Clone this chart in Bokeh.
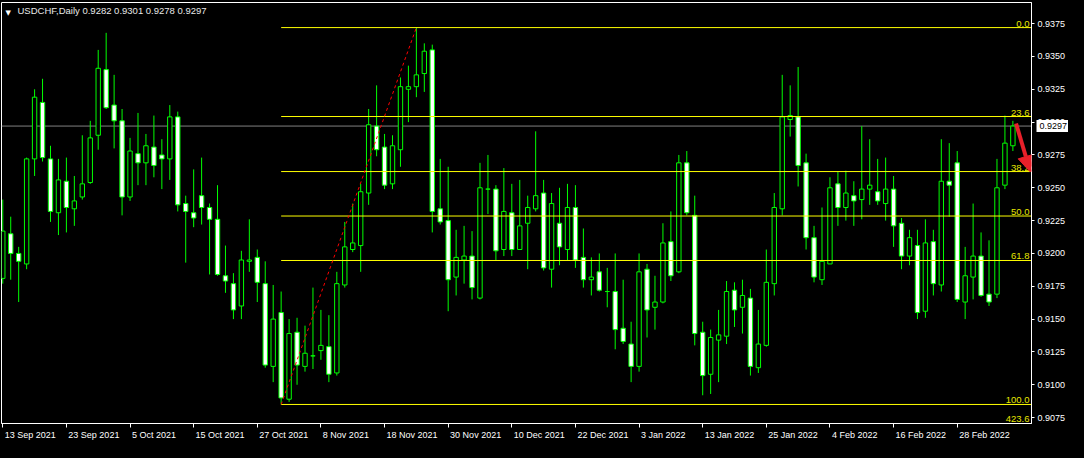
from bokeh.plotting import figure
from bokeh.models import (Range1d, FixedTicker, LinearAxis, Span, Arrow,
                          NormalHead, ColumnDataSource, NumeralTickFormatter)
from bokeh.core.properties import value
from bokeh.embed import file_html
from bokeh.resources import INLINE

symbol = "USDCHF,Daily"

opens = [0.9181, 0.9215, 0.9200, 0.9192, 0.9272, 0.9315, 0.9272, 0.9231, 0.9255, 0.9234,
         0.9243, 0.9254, 0.9290, 0.9340, 0.9313, 0.9301, 0.9243, 0.9276, 0.9269, 0.9281,
         0.9275, 0.9272, 0.9304, 0.9238, 0.9231, 0.9244, 0.9235, 0.9226, 0.9183, 0.9177,
         0.9160, 0.9194, 0.9197, 0.9177, 0.9114, 0.9155, 0.9089, 0.9140, 0.9114, 0.9122,
         0.9126, 0.9129, 0.9109, 0.9176, 0.9203, 0.9206, 0.9246, 0.9297, 0.9281, 0.9253,
         0.9279, 0.9325, 0.9327, 0.9337, 0.9355, 0.9234, 0.9225, 0.9182, 0.9195, 0.9198,
         0.9166, 0.9249, 0.9249, 0.9203, 0.9231, 0.9203, 0.9223, 0.9234, 0.9246, 0.9188,
         0.9223, 0.9203, 0.9235, 0.9197, 0.9180, 0.9186, 0.9171, 0.9171, 0.9143, 0.9131,
         0.9114, 0.9188, 0.9159, 0.9163, 0.9209, 0.9186, 0.9269, 0.9229, 0.9140, 0.9108,
         0.9134, 0.9137, 0.9172, 0.9159, 0.9166, 0.9113, 0.9130, 0.9177, 0.9234, 0.9302,
         0.9304, 0.9269, 0.9212, 0.9180, 0.9192, 0.9253, 0.9235, 0.9244, 0.9241, 0.9249,
         0.9247, 0.9238, 0.9249, 0.9223, 0.9198, 0.9206, 0.9156, 0.9209, 0.9176, 0.9255,
         0.9269, 0.9163, 0.9182, 0.9198, 0.9169, 0.9169, 0.9252, 0.9282]
highs = [0.9241, 0.9228, 0.9205, 0.9273, 0.9325, 0.9333, 0.9282, 0.9272, 0.9273, 0.9259,
         0.9290, 0.9301, 0.9355, 0.9368, 0.9336, 0.9310, 0.9288, 0.9307, 0.9291, 0.9305,
         0.9287, 0.9313, 0.9308, 0.9244, 0.9264, 0.9273, 0.9238, 0.9252, 0.9206, 0.9185,
         0.9202, 0.9226, 0.9203, 0.9194, 0.9176, 0.9171, 0.9150, 0.9151, 0.9145, 0.9174,
         0.9157, 0.9153, 0.9186, 0.9224, 0.9238, 0.9253, 0.9310, 0.9328, 0.9291, 0.9290,
         0.9334, 0.9343, 0.9372, 0.9360, 0.9359, 0.9272, 0.9266, 0.9218, 0.9221, 0.9217,
         0.9269, 0.9275, 0.9252, 0.9265, 0.9253, 0.9256, 0.9244, 0.9293, 0.9256, 0.9246,
         0.9250, 0.9253, 0.9252, 0.9219, 0.9197, 0.9200, 0.9189, 0.9200, 0.9180, 0.9148,
         0.9200, 0.9192, 0.9183, 0.9223, 0.9232, 0.9275, 0.9278, 0.9244, 0.9148, 0.9142,
         0.9157, 0.9179, 0.9178, 0.9180, 0.9173, 0.9157, 0.9203, 0.9246, 0.9336, 0.9328,
         0.9342, 0.9276, 0.9221, 0.9235, 0.9258, 0.9262, 0.9263, 0.9255, 0.9297, 0.9287,
         0.9272, 0.9273, 0.9259, 0.9227, 0.9218, 0.9218, 0.9226, 0.9218, 0.9287, 0.9284,
         0.9278, 0.9205, 0.9238, 0.9216, 0.9210, 0.9272, 0.9305, 0.9301]
lows = [0.9177, 0.9180, 0.9163, 0.9188, 0.9259, 0.9270, 0.9224, 0.9214, 0.9216, 0.9221,
        0.9241, 0.9253, 0.9279, 0.9310, 0.9280, 0.9229, 0.9240, 0.9252, 0.9252, 0.9258,
        0.9249, 0.9256, 0.9232, 0.9193, 0.9220, 0.9222, 0.9184, 0.9183, 0.9170, 0.9150,
        0.9150, 0.9186, 0.9163, 0.9113, 0.9102, 0.9085, 0.9087, 0.9100, 0.9110, 0.9112,
        0.9119, 0.9102, 0.9107, 0.9174, 0.9201, 0.9186, 0.9237, 0.9274, 0.9249, 0.9249,
        0.9266, 0.9300, 0.9319, 0.9323, 0.9216, 0.9222, 0.9156, 0.9168, 0.9177, 0.9165,
        0.9165, 0.9230, 0.9195, 0.9198, 0.9198, 0.9203, 0.9188, 0.9232, 0.9187, 0.9174,
        0.9191, 0.9195, 0.9189, 0.9174, 0.9168, 0.9171, 0.9159, 0.9127, 0.9131, 0.9102,
        0.9110, 0.9136, 0.9142, 0.9162, 0.9179, 0.9185, 0.9229, 0.9130, 0.9092, 0.9093,
        0.9102, 0.9131, 0.9144, 0.9139, 0.9107, 0.9109, 0.9129, 0.9168, 0.9229, 0.9289,
        0.9251, 0.9203, 0.9178, 0.9176, 0.9192, 0.9221, 0.9225, 0.9221, 0.9226, 0.9237,
        0.9237, 0.9225, 0.9205, 0.9188, 0.9191, 0.9150, 0.9151, 0.9168, 0.9171, 0.9228,
        0.9163, 0.9150, 0.9165, 0.9167, 0.9160, 0.9166, 0.9249, 0.9278]
closes = [0.9217, 0.9200, 0.9194, 0.9272, 0.9319, 0.9273, 0.9232, 0.9256, 0.9235, 0.9240,
          0.9253, 0.9288, 0.9341, 0.9311, 0.9301, 0.9243, 0.9278, 0.9269, 0.9282, 0.9267,
          0.9272, 0.9304, 0.9237, 0.9232, 0.9227, 0.9235, 0.9226, 0.9184, 0.9179, 0.9157,
          0.9195, 0.9195, 0.9178, 0.9115, 0.9150, 0.9090, 0.9139, 0.9115, 0.9124, 0.9122,
          0.9130, 0.9108, 0.9177, 0.9205, 0.9208, 0.9247, 0.9298, 0.9279, 0.9252, 0.9282,
          0.9327, 0.9327, 0.9336, 0.9354, 0.9232, 0.9224, 0.9180, 0.9197, 0.9198, 0.9174,
          0.9250, 0.9249, 0.9202, 0.9232, 0.9203, 0.9221, 0.9235, 0.9244, 0.9189, 0.9238,
          0.9205, 0.9235, 0.9195, 0.9180, 0.9182, 0.9172, 0.9171, 0.9142, 0.9133, 0.9114,
          0.9186, 0.9157, 0.9163, 0.9208, 0.9183, 0.9269, 0.9231, 0.9139, 0.9107, 0.9136,
          0.9138, 0.9171, 0.9157, 0.9168, 0.9114, 0.9131, 0.9178, 0.9235, 0.9304, 0.9305,
          0.9267, 0.9212, 0.9182, 0.9194, 0.9250, 0.9235, 0.9246, 0.9240, 0.9249, 0.9252,
          0.9240, 0.9249, 0.9221, 0.9198, 0.9212, 0.9155, 0.9208, 0.9177, 0.9255, 0.9252,
          0.9165, 0.9183, 0.9198, 0.9168, 0.9163, 0.9250, 0.9284, 0.9297]

date_labels = ["13 Sep 2021", "23 Sep 2021", "5 Oct 2021", "15 Oct 2021", "27 Oct 2021",
               "8 Nov 2021", "18 Nov 2021", "30 Nov 2021", "10 Dec 2021", "22 Dec 2021",
               "3 Jan 2022", "13 Jan 2022", "25 Jan 2022", "4 Feb 2022", "16 Feb 2022",
               "28 Feb 2022"]
bars_per_label = 8
price_ticks = [0.9075, 0.9100, 0.9125, 0.9150, 0.9175, 0.9200, 0.9225, 0.9250,
               0.9275, 0.9300, 0.9325, 0.9350, 0.9375]
fib_levels = [0.0, 23.6, 38.2, 50.0, 61.8, 100.0, 423.6]
fib_low_bar = 35
fib_high_bar = 52

# ---------------------------------------------------------------- layout
W, H = 1068, 442
n = len(opens)
x_lo, x_hi = -0.16, n + 1.34
y_lo, y_hi = 0.90705, 0.93911

GREEN = "#00ff00"
FONT = "Liberation Sans"

p = figure(width=W, height=H, x_range=Range1d(x_lo, x_hi), y_range=Range1d(y_lo, y_hi),
           output_backend="svg", toolbar_location=None, y_axis_location="right",
           x_axis_location=None,
           background_fill_color="black", border_fill_color="black",
           min_border_left=1, min_border_top=2, min_border_right=0, min_border_bottom=0)
p.grid.visible = False
p.outline_line_color = "white"
p.outline_line_width = 1

# bid line
p.add_layout(Span(location=closes[-1], dimension="width", line_color="#808080",
                  line_width=1, level="underlay"))

# candles
idx = list(range(n))
tops = [max(o, c) for o, c in zip(opens, closes)]
bots = [min(o, c) for o, c in zip(opens, closes)]
fills = ["black" if c >= o else "white" for o, c in zip(opens, closes)]
src = ColumnDataSource(dict(x=idx, hi=highs, lo=lows, top=tops, bot=bots, fill=fills))
p.segment(x0="x", y0="lo", x1="x", y1="hi", source=src, line_color=GREEN, line_width=1)
p.vbar(x="x", width=0.55, top="top", bottom="bot", source=src,
       fill_color="fill", line_color=GREEN, line_width=1)

# fibonacci
f_hi = highs[fib_high_bar]
f_lo = lows[fib_low_bar]
rng = f_hi - f_lo
vis_levels = [lv for lv in fib_levels if lv <= 100]
lev_prices = [f_hi - lv / 100.0 * rng for lv in vis_levels]
p.segment(x0=[fib_low_bar] * len(vis_levels), y0=lev_prices,
          x1=[x_hi + 5] * len(vis_levels), y1=lev_prices,
          line_color="#ffff00", line_width=1)
lab_y = lev_prices + [y_lo]
lab_off = [-1] * len(vis_levels) + [-2]
p.text(x=[x_hi] * len(fib_levels), y=lab_y, text=[f"{lv:.1f}" for lv in fib_levels],
       x_offset=-2, y_offset=lab_off, text_align="right", text_baseline="bottom",
       text_color="#e6e600", text_font_size="9.5px", text_font=value(FONT))

# red dotted trend line low -> high
p.line(x=[fib_low_bar, fib_high_bar], y=[f_lo, f_hi], line_color="#ff0000",
       line_dash="3 3", line_width=1)

# red arrow pointing at 38.2 level
p.add_layout(Arrow(end=NormalHead(size=16, fill_color="#e8202a", line_color="#e8202a"),
                   x_start=n - 1 + 0.4, y_start=highs[-1] - 0.0002,
                   x_end=n - 1 + 2.2, y_end=lev_prices[2] - 0.00003,
                   line_color="#e8202a", line_width=4))

# title
p.text(x=[x_lo], y=[y_hi], text=["\u25BC"], x_offset=4, y_offset=6,
       text_baseline="top", text_color="white", text_font_size="7px",
       text_font=value("DejaVu Sans"))
p.text(x=[x_lo], y=[y_hi], text=[f"{symbol}  {opens[-1]:.4f} {highs[-1]:.4f} "
                                 f"{lows[-1]:.4f} {closes[-1]:.4f}"],
       x_offset=16, y_offset=2, text_baseline="top", text_color="#e8e8e8",
       text_font_size="9.5px", text_font=value(FONT))

# right price axis
ya = p.yaxis[0]
ya.ticker = FixedTicker(ticks=price_ticks)
ya.formatter = NumeralTickFormatter(format="0.0000")
ya.major_tick_out = 3
ya.major_tick_in = 0
ya.minor_tick_line_color = None
ya.axis_line_color = "white"
ya.major_tick_line_color = "white"
ya.major_label_text_color = "white"
ya.major_label_text_font = FONT
ya.major_label_text_font_size = "9px"
ya.major_label_standoff = 3

# bottom axis: tick marks (as minor ticks) + left-aligned date labels
tick_pos = [i * bars_per_label for i in range(len(date_labels))]
em = {' ': 0.278, 'S': 0.667, 'O': 0.778, 'c': 0.5, 't': 0.278, 'N': 0.722,
      'v': 0.5, 'D': 0.722, 'J': 0.5, 'F': 0.611}
fs = 9.0
def text_w(s):
    return sum(em.get(ch, 0.556) for ch in s) * fs
ppc = (W - 36) / (x_hi - x_lo)
centres = [t + (2 + text_w(s) / 2) / ppc for t, s in zip(tick_pos, date_labels)]
la = LinearAxis(ticker=FixedTicker(ticks=centres, minor_ticks=tick_pos),
                major_label_overrides={c: s for c, s in zip(centres, date_labels)},
                axis_line_color="white", major_tick_line_color=None,
                minor_tick_line_color="white", major_tick_out=4, major_tick_in=0,
                minor_tick_out=4, minor_tick_in=0,
                major_label_standoff=2, major_label_text_color="white",
                major_label_text_font=FONT, major_label_text_font_size="9px")
p.add_layout(la, "below")

# current price box on the price scale (overlay level, so not clipped to the frame)
box_kw = dict(x=[x_hi], y=[closes[-1]], text=[f"{closes[-1]:.4f}"], x_offset=5,
              text_baseline="middle", text_color="black", text_font=value(FONT),
              text_font_size="9px", level="overlay")
try:
    p.text(background_fill_color="white", padding=3, **box_kw)
except Exception:
    p.text(**box_kw)

html = file_html(p, INLINE)
html = html.replace("<head>", "<head><style>html,body{background:#000000;}</style>", 1)
open("out.html", "w").write(html)
